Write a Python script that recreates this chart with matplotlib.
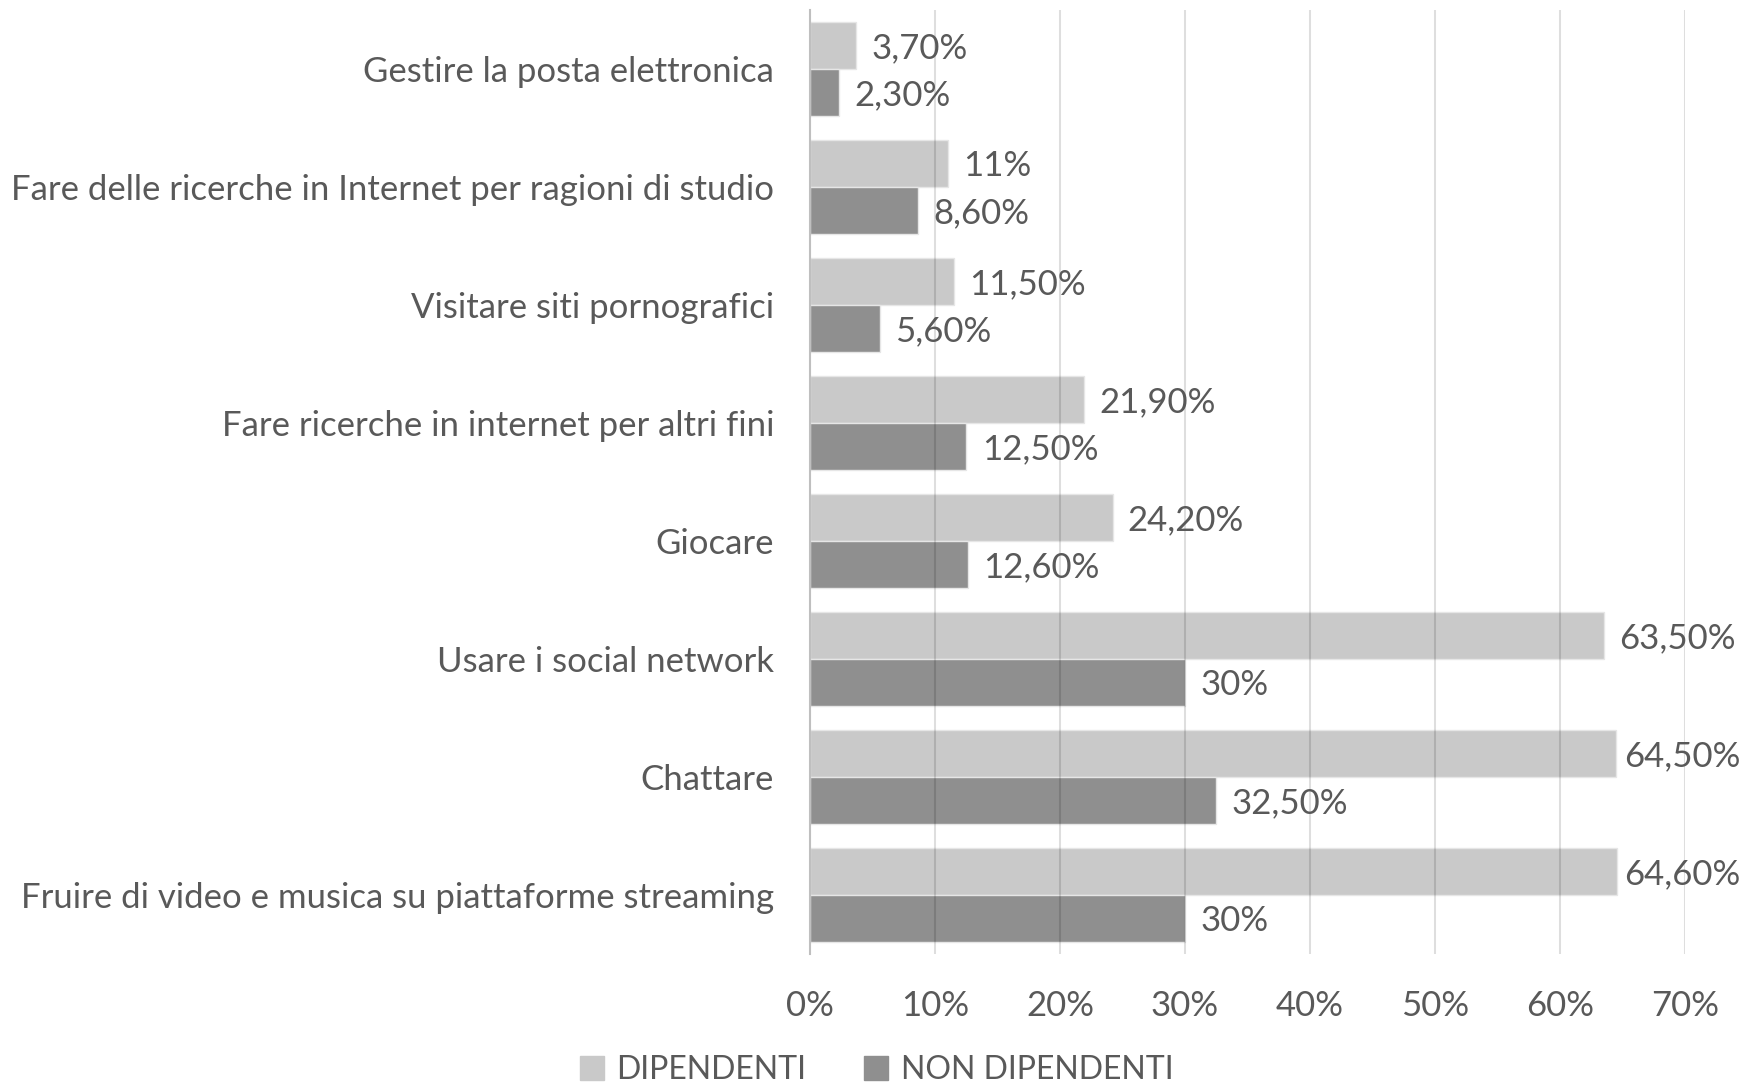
import matplotlib.pyplot as plt
import numpy as np
from matplotlib.ticker import FuncFormatter
from matplotlib.patches import Patch

# dati
categorie = [
    "Gestire la posta elettronica",
    "Fare delle ricerche in Internet per ragioni di studio",
    "Visitare siti pornografici",
    "Fare ricerche in internet per altri fini",
    "Giocare",
    "Usare i social network",
    "Chattare",
    "Fruire di video e musica su piattaforme streaming",
]
dipendenti = [3.7, 11, 11.5, 21.9, 24.2, 63.5, 64.5, 64.6]
non_dipendenti = [2.3, 8.6, 5.6, 12.5, 12.6, 30, 32.5, 30]
etichette_dip = ["3,70%", "11%", "11,50%", "21,90%", "24,20%", "63,50%", "64,50%", "64,60%"]
etichette_non = ["2,30%", "8,60%", "5,60%", "12,50%", "12,60%", "30%", "32,50%", "30%"]

plt.rcParams['font.family'] = ['Lato', 'DejaVu Sans']
grigio_testo = "#595959"
col_dip = "#C9C9C9"
col_non = "#8F8F8F"

fig = plt.figure(figsize=(17.46, 10.83), dpi=100)
ax = fig.add_axes([0.464, 0.119, 0.501, 0.872])

y = np.arange(len(categorie))
h = 0.4
ax.barh(y - h / 2, dipendenti, height=h, color=col_dip, edgecolor="#E6E6E6", linewidth=1, zorder=2)
ax.barh(y + h / 2, non_dipendenti, height=h, color=col_non, edgecolor="#E6E6E6", linewidth=1, zorder=2)

# etichette dei valori
etichette = []
for i in range(len(categorie)):
    etichette.append(ax.annotate(etichette_dip[i], (dipendenti[i], y[i] - h / 2), xytext=(11, -2),
                                 textcoords="offset points", va="center", ha="left",
                                 fontsize=25, color=grigio_testo))
    etichette.append(ax.annotate(etichette_non[i], (non_dipendenti[i], y[i] + h / 2), xytext=(11, -2),
                                 textcoords="offset points", va="center", ha="left",
                                 fontsize=25, color=grigio_testo))

ax.set_xlim(0, 70)
ax.set_ylim(len(categorie) - 0.5, -0.5)
ax.set_xticks(np.arange(0, 71, 10))
ax.xaxis.set_major_formatter(FuncFormatter(lambda v, p: f"{v:.0f}%"))
ax.set_yticks(y)
ax.set_yticklabels(categorie)
ax.tick_params(axis="x", length=0, pad=26, labelsize=25, colors=grigio_testo)
ax.tick_params(axis="y", length=0, pad=26, labelsize=25, colors=grigio_testo)

ax.grid(axis="x", color="black", alpha=0.13, linewidth=1.5, zorder=3)
ax.set_axisbelow(False)
for s in ["top", "right", "bottom"]:
    ax.spines[s].set_visible(False)
ax.spines["left"].set_color("#BFBFBF")
ax.spines["left"].set_linewidth(1.5)
ax.spines["left"].set_zorder(4)

# legenda
handles = [Patch(color=col_dip, label="DIPENDENTI"), Patch(color=col_non, label="NON DIPENDENTI")]
fig.legend(handles=handles, loc="center", bbox_to_anchor=(0.502, 0.012), ncol=2, frameon=False,
           fontsize=23, labelcolor=grigio_testo, handlelength=0.75, handleheight=0.75,
           handletextpad=0.4, columnspacing=1.8, borderpad=0.1)

# come in Excel: le etichette che escono dal grafico vengono spostate a sinistra
fig.canvas.draw()
r = fig.canvas.get_renderer()
limite = fig.bbox.width - 6
for t in etichette:
    bb = t.get_window_extent(r)
    if bb.x1 > limite:
        dx = (bb.x1 - limite) * 72 / fig.dpi
        x0, y0 = t.get_position()
        t.set_position((x0 - dx, y0))

fig.savefig("out.png", dpi=100)
